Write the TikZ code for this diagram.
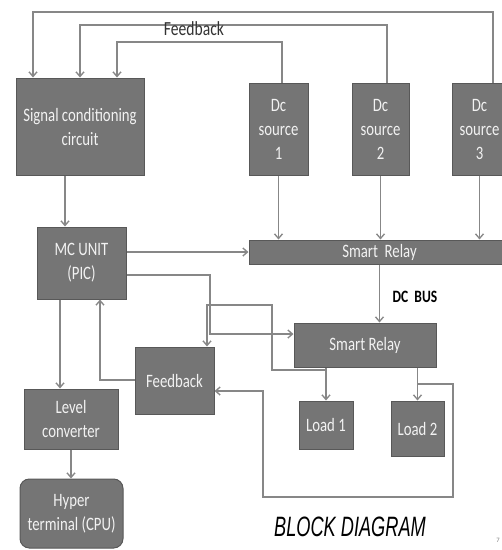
\documentclass[tikz,border=0pt]{standalone}
\usepackage{fontspec}
\setmainfont{Carlito}
\newfontfamily\boxfont[FakeStretch=0.78]{Carlito}
\newfontfamily\titlefont[FakeStretch=0.65]{Liberation Sans}
\usetikzlibrary{arrows.meta}

\definecolor{boxgray}{RGB}{117,117,117}
\definecolor{edgegray}{RGB}{88,88,88}
\definecolor{wiregray}{RGB}{135,135,135}
\definecolor{labelgray}{RGB}{242,242,242}

\tikzset{every picture/.style={line width=0.75pt}}
\tikzset{
  block/.style={draw=edgegray, fill=boxgray, text=labelgray, align=center,
    inner sep=0.75pt, font=\boxfont\fontsize{14.2}{18}\selectfont},
  wire/.style={draw=wiregray, line width=1pt},
  arr/.style={wire, -{Straight Barb[length=3.5pt,width=6pt]}}
}

\begin{document}
\begin{tikzpicture}[x=0.75pt,y=0.75pt,yscale=-1,xscale=1]
\useasboundingbox (0,0) rectangle (502,550);

%Shape: Rectangle [id:sig]
\node [block, minimum width=96pt, minimum height=72.75pt] (sig) at (80,126.5) {Signal conditioning\\circuit};
%Shape: Rectangle [id:dc1]
\node [block, minimum width=44.25pt, minimum height=69pt] (dc1) at (278.5,129) {Dc\\source\\1};
%Shape: Rectangle [id:dc2]
\node [block, minimum width=42.75pt, minimum height=69pt] (dc2) at (380.5,129) {Dc\\source\\2};
%Shape: Rectangle [id:dc3]
\node [block, minimum width=40pt, minimum height=69pt] (dc3) at (479.5,129) {Dc\\source\\3};
%Shape: Rectangle [id:relaytop]
\node [block, minimum width=195.75pt, minimum height=18pt] (relaytop) at (379.5,252) {Smart \ Relay};
%Shape: Rectangle [id:mcu]
\node [block, minimum width=66.75pt, minimum height=54pt] (mcu) at (81.5,263) {MC UNIT\\(PIC)};
%Shape: Rectangle [id:relaybus]
\node [block, minimum width=106.5pt, minimum height=33pt] (relaybus) at (365,345) {Smart Relay};
%Shape: Rectangle [id:fbk]
\node [block, minimum width=59.25pt, minimum height=50.25pt] (fbk) at (174.5,380.5) {Feedback};
%Shape: Rectangle [id:load1]
\node [block, minimum width=40.5pt, minimum height=36pt] (load1) at (326,425) {Load 1};
%Shape: Rectangle [id:load2]
\node [block, minimum width=39.75pt, minimum height=41.25pt] (load2) at (417.5,428.5) {Load 2};
%Shape: Rectangle [id:level]
\node [block, minimum width=70.5pt, minimum height=45pt] (level) at (71,419) {Level\\converter};
%Shape: Rounded Rectangle [id:hyper]
\node [block, rounded corners=7pt, minimum width=77.25pt, minimum height=51.75pt] (hyper) at (71.5,513.5) {Hyper\\terminal (CPU)};

%Corner points of the wires
\coordinate (fAl) at (33,12);  \coordinate (fAr) at (493,12);
\coordinate (fBl) at (80,25);  \coordinate (fBr) at (387,25);
\coordinate (fCl) at (117,42); \coordinate (fCr) at (282,42);
\coordinate (k1) at (210,275); \coordinate (k2) at (210,334);
\coordinate (j1) at (272,370); \coordinate (j2) at (272,305); \coordinate (j3) at (207,305);
\coordinate (m1) at (453,384); \coordinate (m2) at (453,497);
\coordinate (m3) at (263,497); \coordinate (m4) at (263,391);
\coordinate (n1) at (100,380);
\coordinate (p1) at (60,300);
\coordinate (q1) at (65,180);

%Feedback lines from the sources
\draw [arr] (dc3.north -| fAr) -- (fAr) -- (fAl) -- (sig.north -| fAl);
\draw [arr] (dc2.north -| fBr) -- (fBr) -- (fBl) -- (sig.north -| fBl);
\draw [arr] (dc1.north -| fCr) -- (fCr) -- (fCl) -- (sig.north -| fCl);

%Sources into the relay
\draw [arr] (dc1.south) -- (dc1.south |- relaytop.north);
\draw [arr] (dc2.south) -- (dc2.south |- relaytop.north);
\draw [arr] (dc3.south) -- (dc3.south |- relaytop.north);

%Controller
\draw [arr] (sig.south -| q1) -- (mcu.north -| q1);
\draw [arr] (relaytop.west -| mcu.east) -- (relaytop.west);
\draw [arr] (mcu.east |- k1) -- (k1) -- (k2) -- (relaybus.west |- k2);
\draw [arr] (mcu.south -| p1) -- (level.north -| p1);
\draw [arr] (level.south) -- (level.south |- hyper.north);

%DC bus and loads
\draw [arr] (relaytop.south) -- (relaytop.south |- relaybus.north);
\draw [arr] (relaybus.south -| load1.north) -- (load1.north);
\draw [arr] (relaybus.south -| load2.north) -- (load2.north);

%Feedback from the loads
\draw [arr] (j1 -| load1.north) -- (j1) -- (j2) -- (j3) -- (fbk.north -| j3);
\draw [arr] (m1 -| load2.north) -- (m1) -- (m2) -- (m3) -- (m4) -- (fbk.east |- m4);
\draw [arr] (fbk.west |- n1) -- (n1) -- (mcu.south -| n1);

% Text Node
\node [inner sep=0.75pt, text=black!80, font=\boxfont\fontsize{15}{17}\selectfont] (fbtitle) at (194,29) {Feedback};
% Text Node
\node [inner sep=0.75pt, font=\boxfont\bfseries\fontsize{13}{15}\selectfont] (dcbus) at (415,297) {DC \ BUS};
% Text Node
\node [inner sep=0.75pt, font=\titlefont\itshape\fontsize{21}{23}\selectfont] (title) at (350,527) {BLOCK DIAGRAM};
% Text Node
\node [inner sep=0.75pt, text=black!50, font=\fontsize{5}{6}\selectfont] (pagenum) at (498,540) {7};

\end{tikzpicture}
\end{document}
